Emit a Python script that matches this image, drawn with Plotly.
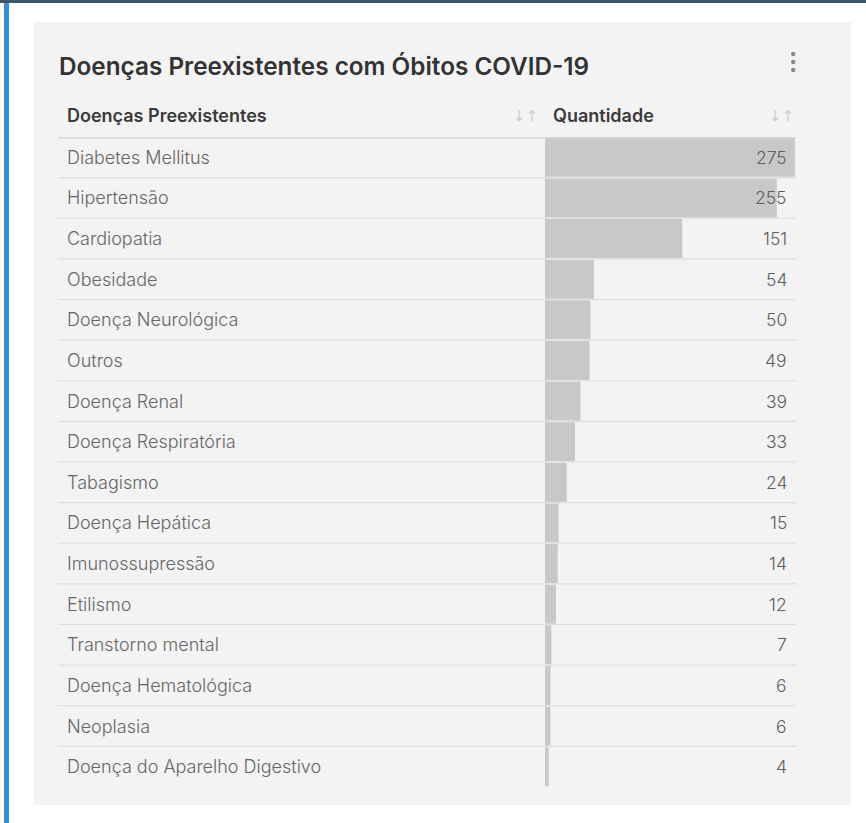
import plotly.graph_objects as go

W, H = 866, 823

title = "Doenças Preexistentes com Óbitos COVID-19"
col_headers = ["Doenças Preexistentes", "Quantidade"]
categories = [
    "Diabetes Mellitus", "Hipertensão", "Cardiopatia", "Obesidade",
    "Doença Neurológica", "Outros", "Doença Renal", "Doença Respiratória",
    "Tabagismo", "Doença Hepática", "Imunossupressão", "Etilismo",
    "Transtorno mental", "Doença Hematológica", "Neoplasia",
    "Doença do Aparelho Digestivo",
]
values = [275, 255, 151, 54, 50, 49, 39, 33, 24, 15, 14, 12, 7, 6, 6, 4]


def px(x):
    return x / W


def py(y):
    return 1 - y / H


TABLE_TOP, TABLE_BOT = 137, 787
BAR_X0, BAR_X1 = 545, 795
n = len(categories)

fig = go.Figure()
fig.add_trace(go.Bar(
    x=values, y=list(range(n)), orientation="h",
    marker=dict(color="#c8c8c8", line=dict(width=0)),
    hoverinfo="skip", showlegend=False,
))

shapes = []
shapes.append(dict(type="rect", xref="paper", yref="paper", x0=0, x1=1,
                   y0=py(3), y1=1, fillcolor="#3f5670", line=dict(width=0), layer="below"))
shapes.append(dict(type="rect", xref="paper", yref="paper", x0=px(4), x1=px(9),
                   y0=0, y1=py(3), fillcolor="#2f8fd8", line=dict(width=0), layer="below"))
shapes.append(dict(type="rect", xref="paper", yref="paper", x0=px(34), x1=px(851),
                   y0=py(805), y1=py(22), fillcolor="#f3f3f3", line=dict(width=0), layer="below"))
shapes.append(dict(type="line", xref="paper", yref="y", x0=px(58), x1=px(796),
                   y0=-0.5, y1=-0.5, line=dict(color="#d6d6d6", width=3), layer="above"))
for i in range(n - 1):
    shapes.append(dict(type="line", xref="paper", yref="y", x0=px(58), x1=px(796),
                       y0=i + 0.5, y1=i + 0.5, line=dict(color="#dedede", width=1.2), layer="above"))
for yy in (54, 62, 70):
    shapes.append(dict(type="circle", xref="paper", yref="paper",
                       x0=px(791), x1=px(795.5), y0=py(yy + 2.2), y1=py(yy - 2.2),
                       fillcolor="#888888", line=dict(width=0)))

annotations = []
annotations.append(dict(text=title, xref="paper", yref="paper", x=px(57), y=py(66),
                        xanchor="left", yanchor="middle", showarrow=False,
                        font=dict(family="Inter", size=24.3, color="#333333", weight=600)))
annotations.append(dict(text=col_headers[0], xref="paper", yref="paper", x=px(65), y=py(116),
                        xanchor="left", yanchor="middle", showarrow=False,
                        font=dict(family="Inter", size=18, color="#3a3a3a", weight=600)))
annotations.append(dict(text=col_headers[1], xref="paper", yref="paper", x=px(551), y=py(116),
                        xanchor="left", yanchor="middle", showarrow=False,
                        font=dict(family="Inter", size=18, color="#3a3a3a", weight=600)))
for xx in (525, 781):
    annotations.append(dict(text="↓↑", xref="paper", yref="paper", x=px(xx), y=py(116),
                            xanchor="center", yanchor="middle", showarrow=False,
                            font=dict(family="DejaVu Sans", size=15, color="#cccccc")))
for i, (c, v) in enumerate(zip(categories, values)):
    annotations.append(dict(text=c, xref="paper", yref="y", x=px(65), y=i,
                            xanchor="left", yanchor="middle", showarrow=False,
                            font=dict(family="Inter", size=18, color="#666666", weight=300)))
    annotations.append(dict(text=str(v), xref="paper", yref="y", x=px(789), y=i,
                            xanchor="right", yanchor="middle", showarrow=False,
                            font=dict(family="Inter", size=17.5, color="#5e5e5e", weight=300)))

fig.update_layout(
    width=W, height=H,
    margin=dict(l=0, r=0, t=0, b=0),
    paper_bgcolor="#ffffff", plot_bgcolor="rgba(0,0,0,0)",
    bargap=0.04,
    xaxis=dict(domain=[px(BAR_X0), px(BAR_X1)], range=[0, 275], visible=False, fixedrange=True),
    yaxis=dict(domain=[py(TABLE_BOT), py(TABLE_TOP)], range=[n - 0.5, -0.5],
               visible=False, fixedrange=True),
    shapes=shapes, annotations=annotations,
)

fig.write_html("out.html", config={"displayModeBar": False},
               post_script="document.body.style.margin='0';document.body.style.overflow='hidden';")
